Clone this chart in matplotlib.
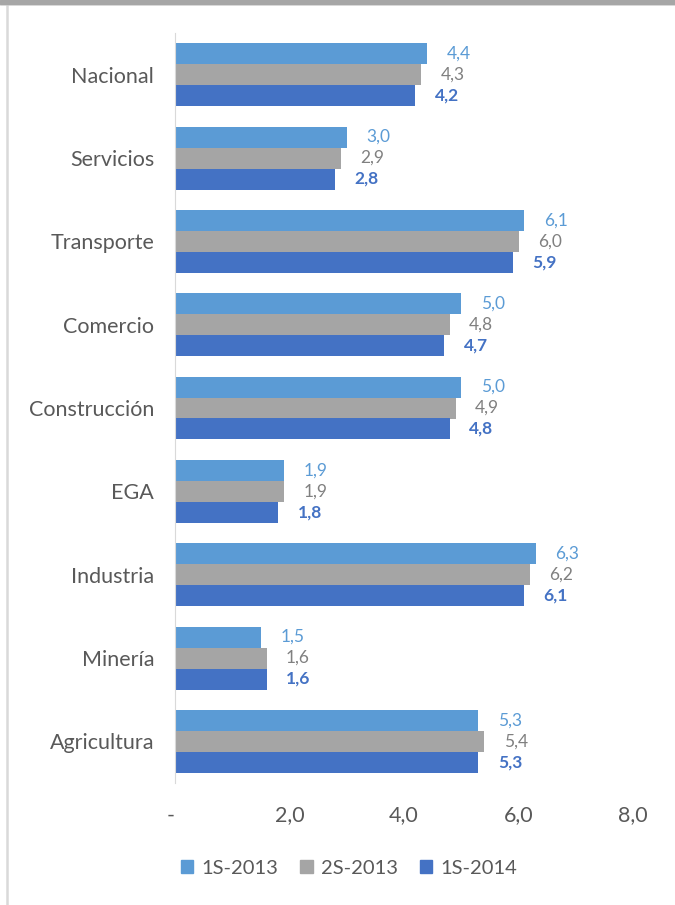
import numpy as np
import matplotlib.pyplot as plt
from matplotlib.patches import Rectangle
from matplotlib.lines import Line2D

plt.rcParams["font.family"] = ["Lato", "DejaVu Sans"]

categories = ["Nacional", "Servicios", "Transporte", "Comercio", "Construcción",
              "EGA", "Industria", "Minería", "Agricultura"]
series_names = ["1S-2013", "2S-2013", "1S-2014"]
s1_2013 = [4.4, 3.0, 6.1, 5.0, 5.0, 1.9, 6.3, 1.5, 5.3]
s2_2013 = [4.3, 2.9, 6.0, 4.8, 4.9, 1.9, 6.2, 1.6, 5.4]
s1_2014 = [4.2, 2.8, 5.9, 4.7, 4.8, 1.8, 6.1, 1.6, 5.3]
xticks = [0, 2, 4, 6, 8]
xtick_labels = ["-", "2,0", "4,0", "6,0", "8,0"]

colors = ["#5B9BD5", "#A5A5A5", "#4472C4"]
label_colors = ["#5B9BD5", "#808080", "#4472C4"]
label_weights = ["normal", "normal", "bold"]

fig = plt.figure(figsize=(6.75, 9.05), dpi=100)
ax = fig.add_axes([175 / 675, 1 - 783 / 905, (633 - 175) / 675, 750 / 905])

y = np.arange(len(categories))
h = 0.252
for i, vals in enumerate([s1_2013, s2_2013, s1_2014]):
    pos = y + (i - 1) * h
    ax.barh(pos, vals, height=h, color=colors[i], label=series_names[i])
    for p, v in zip(pos, vals):
        ax.annotate(f"{v:.1f}".replace(".", ","), (v, p), xytext=(14, 0),
                    textcoords="offset points", va="center", ha="left",
                    fontsize=12.5, color=label_colors[i], fontweight=label_weights[i])

ax.set_ylim(len(categories) - 0.5, -0.5)
ax.set_xlim(0, 8)
ax.set_yticks(y)
ax.set_yticklabels(categories, fontsize=15.5, color="#595959")
ax.set_xticks(xticks)
ax.set_xticklabels(xtick_labels, fontsize=15.5, color="#595959")
ax.get_xticklabels()[0].set_ha("right")
ax.tick_params(axis="both", length=0)
ax.tick_params(axis="x", pad=16)
ax.tick_params(axis="y", pad=15)
for s in ["top", "right", "bottom"]:
    ax.spines[s].set_visible(False)
ax.spines["left"].set_color("#D9D9D9")

handles = [Rectangle((0, 0), 1, 1, color=c) for c in colors]
fig.legend(handles, series_names, loc="center", bbox_to_anchor=(349 / 675, 1 - 868 / 905),
           ncol=3, frameon=False, fontsize=14.5, handlelength=0.6, handleheight=0.6,
           columnspacing=1.1, handletextpad=0.4, labelcolor="#595959")

# frame bits from the screenshot
fig.patches.append(Rectangle((0, 1 - 4 / 905), 1, 4 / 905, transform=fig.transFigure,
                             color="#A6A6A6", zorder=5))
fig.lines.append(Line2D([0, 1], [1 - 5 / 905] * 2, transform=fig.transFigure,
                        color="#E0E0E0", lw=1.2))
fig.lines.append(Line2D([6.5 / 675] * 2, [0, 1 - 4 / 905], transform=fig.transFigure,
                        color="#D9D9D9", lw=1.8))

plt.savefig("out.png", dpi=100)
